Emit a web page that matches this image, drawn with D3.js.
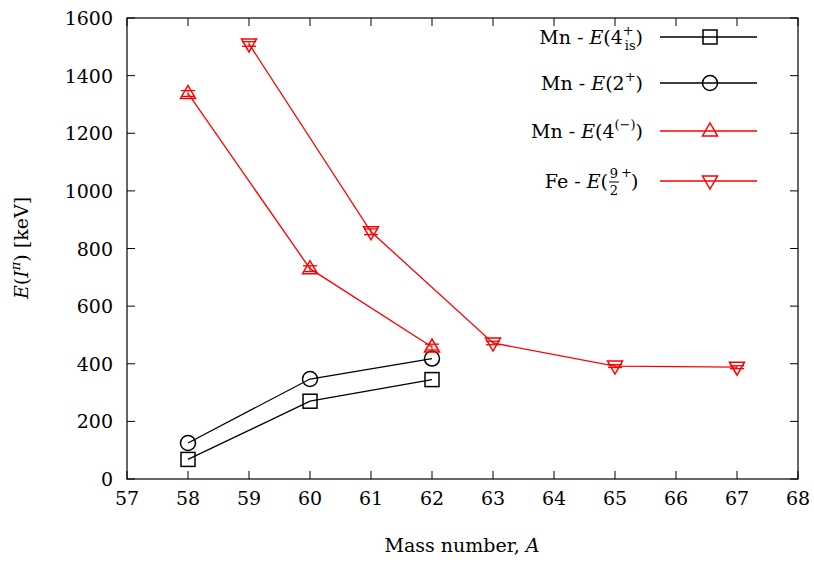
<!DOCTYPE html><html><head><meta charset="utf-8"><script src="https://cdn.jsdelivr.net/npm/d3@7"></script>
<style>body{margin:0;background:#fff}</style></head><body><svg id="c" width="814" height="562" font-family="'DejaVu Serif','Liberation Serif',serif" font-size="19"></svg><script>
const xTicks=[57,58,59,60,61,62,63,64,65,66,67,68];
const yTicks=[0,200,400,600,800,1000,1200,1400,1600];
const mn4isA=[58,60,62], mn4isE=[68,270,345];
const mn2A=[58,60,62], mn2E=[125,347,418];
const mn4mA=[58,60,62], mn4mE=[1338,730,458], mn4mErr=[10,10,10];
const fe92A=[59,61,63,65,67], fe92E=[1510,858,472,392,388], fe92Err=[8,10,6,5,5];
const svg=d3.select("#c");
const x=d3.scaleLinear().domain([57,68]).range([127,798]);
const y=d3.scaleLinear().domain([0,1600]).range([479,18]);
svg.append("rect").attr("x",127).attr("y",18).attr("width",671).attr("height",461).attr("fill","none").attr("stroke","#000").attr("stroke-width",1.2);
const g=svg.append("g");
xTicks.forEach(t=>{g.append("line").attr("x1",x(t)).attr("x2",x(t)).attr("y1",479).attr("y2",471).attr("stroke","#000");
g.append("line").attr("x1",x(t)).attr("x2",x(t)).attr("y1",18).attr("y2",26).attr("stroke","#000");
g.append("text").attr("x",x(t)).attr("y",505).attr("text-anchor","middle").text(t);});
yTicks.forEach(t=>{g.append("line").attr("x1",127).attr("x2",135).attr("y1",y(t)).attr("y2",y(t)).attr("stroke","#000");
g.append("line").attr("x1",798).attr("x2",790).attr("y1",y(t)).attr("y2",y(t)).attr("stroke","#000");
g.append("text").attr("x",113).attr("y",y(t)+7).attr("text-anchor","end").text(t);});
svg.append("text").attr("x",462).attr("y",552).attr("text-anchor","middle").html('Mass number, <tspan font-style="italic">A</tspan>');
svg.append("text").attr("transform","translate(28,248) rotate(-90)").attr("text-anchor","middle").html('<tspan font-style="italic">E</tspan>(<tspan font-style="italic">I</tspan><tspan font-size="13" dy="-8" font-style="italic">π</tspan><tspan dy="8">) [keV]</tspan>');
function marker(sel,type,cx,cy,col){
 if(type=="sq") sel.append("rect").attr("x",cx-7).attr("y",cy-7).attr("width",14).attr("height",14);
 else if(type=="ci") sel.append("circle").attr("cx",cx).attr("cy",cy).attr("r",7.5);
 else if(type=="up") sel.append("path").attr("d",`M${cx-7.5},${cy+5}L${cx+7.5},${cy+5}L${cx},${cy-8}Z`);
 else sel.append("path").attr("d",`M${cx-7.5},${cy-5}L${cx+7.5},${cy-5}L${cx},${cy+8}Z`);
 sel.selectAll("*").attr("fill","none").attr("stroke",col).attr("stroke-width",1.5);
}
const series=[[mn4isA,mn4isE,null,"sq","#000"],[mn2A,mn2E,null,"ci","#000"],[mn4mA,mn4mE,mn4mErr,"up","#f00"],[fe92A,fe92E,fe92Err,"dn","#f00"]];
const line=d3.line();
series.forEach(([a,e,err,t,col])=>{
 svg.append("path").attr("d",line(a.map((v,i)=>[x(v),y(e[i])]))).attr("fill","none").attr("stroke",col).attr("stroke-width",1.3);
 a.forEach((v,i)=>{ if(err){[e[i]-err[i],e[i]+err[i]].forEach(q=>svg.append("line").attr("x1",x(v)-7).attr("x2",x(v)+7).attr("y1",y(q)).attr("y2",y(q)).attr("stroke",col).attr("stroke-width",1.3));
  svg.append("line").attr("x1",x(v)).attr("x2",x(v)).attr("y1",y(e[i]-err[i])).attr("y2",y(e[i]+err[i])).attr("stroke",col);}
  marker(svg.append("g"),t,x(v),y(e[i]),col);});
});
const leg=[['Mn - <tspan font-style="italic">E</tspan>(4<tspan font-size="13" dy="-9">+</tspan><tspan font-size="13" dx="-9" dy="15">is</tspan><tspan dy="-6">)</tspan>',37,"sq","#000"],
['Mn - <tspan font-style="italic">E</tspan>(2<tspan font-size="13" dy="-9">+</tspan><tspan dy="9">)</tspan>',83,"ci","#000"],
['Mn - <tspan font-style="italic">E</tspan>(4<tspan font-size="13" dy="-9">(−)</tspan><tspan dy="9">)</tspan>',131,"up","#f00"],
[null,181,"dn","#f00"]];
leg.forEach(([h,ly,t,col])=>{
 if(h) svg.append("text").attr("x",643).attr("y",ly+7).attr("text-anchor","end").html(h);
 else {
  svg.append("text").attr("x",608).attr("y",ly+7).attr("text-anchor","end").html('Fe - <tspan font-style="italic">E</tspan>(');
  svg.append("text").attr("x",614).attr("y",ly-3).attr("text-anchor","middle").attr("font-size",13).text("9");
  svg.append("line").attr("x1",609).attr("x2",619).attr("y1",ly+1).attr("y2",ly+1).attr("stroke","#000");
  svg.append("text").attr("x",614).attr("y",ly+14).attr("text-anchor","middle").attr("font-size",13).text("2");
  svg.append("text").attr("x",621).attr("y",ly-4).attr("font-size",13).text("+");
  svg.append("text").attr("x",631).attr("y",ly+7).text(")");
 }
 svg.append("line").attr("x1",660).attr("x2",757).attr("y1",ly).attr("y2",ly).attr("stroke",col).attr("stroke-width",1.3);
 marker(svg.append("g"),t,710,ly,col);
});
</script></body></html>
